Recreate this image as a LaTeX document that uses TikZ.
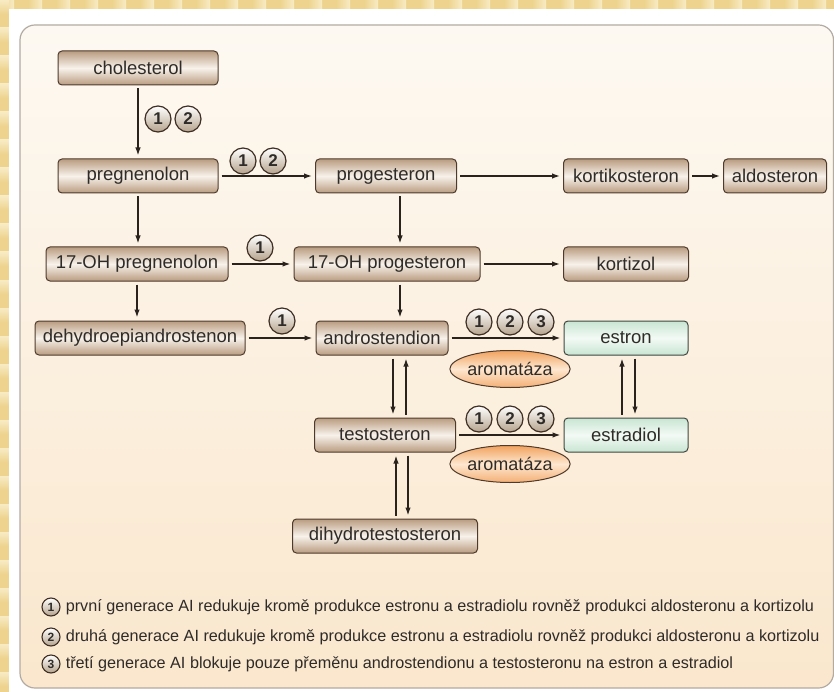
\documentclass[tikz,border=0pt]{standalone}
\usepackage{fontspec}
\setmainfont{Liberation Sans}
\usepackage{tikz}
\usetikzlibrary{arrows.meta}
\usetikzlibrary{shapes.geometric}

\definecolor{zlata}{HTML}{EDD38E}
\definecolor{zlatasv}{HTML}{F8EBC4}
\definecolor{ramecek}{HTML}{B3ABA3}
\definecolor{panelhore}{HTML}{FDF9F2}
\definecolor{paneldole}{HTML}{FAE7CD}
\definecolor{boxtan}{HTML}{B99C80}
\definecolor{boxlight}{HTML}{F8F2EB}
\definecolor{boxline}{HTML}{4E3A2C}
\definecolor{zeltop}{HTML}{C8E5D2}
\definecolor{zelmid}{HTML}{F3FAF5}
\definecolor{zelline}{HTML}{3F4740}
\definecolor{oranz}{HTML}{F2A25E}
\definecolor{oranzsv}{HTML}{FDE7D0}
\definecolor{krokdole}{HTML}{B5A38C}
\definecolor{txt}{HTML}{2E2B28}
\definecolor{sipkabarva}{HTML}{2A221C}

\tikzset{
  latka/.style={draw=boxline, line width=1pt, rounded corners=4pt,
    top color=boxtan, bottom color=boxtan, middle color=boxlight,
    minimum height=34pt, inner sep=0pt, text=txt,
    font=\fontsize{18.5}{20}\selectfont},
  zelena/.style={latka, draw=zelline, top color=zeltop, bottom color=zeltop,
    middle color=zelmid},
  enzym/.style={ellipse, draw=boxline, line width=1pt, top color=oranz,
    bottom color=oranz!80!oranzsv, middle color=oranzsv, minimum width=118pt,
    minimum height=37pt, inner sep=0pt, text=txt,
    font=\fontsize{18}{20}\selectfont},
  krok/.style={circle, draw=boxline!80!black, line width=1.2pt, top color=white,
    bottom color=krokdole, minimum size=26pt, inner sep=0pt, text=txt,
    font=\fontsize{17}{18}\selectfont\bfseries},
  maly/.style={krok, minimum size=18pt, line width=1.1pt,
    font=\fontsize{12}{12}\selectfont\bfseries},
  legenda/.style={anchor=west, inner sep=0pt, text=txt,
    font=\fontsize{16.2}{18}\selectfont},
  sipka/.style={draw=sipkabarva, line width=1.4pt,
    -{Latex[length=8pt,width=5.5pt]}, shorten >=3pt, shorten <=3pt}
}

\begin{document}
\begin{tikzpicture}[x=1pt,y=-1pt]
        \useasboundingbox (0,0) rectangle (834,692);
        % background
        \fill[zlata] (0,0) rectangle (834,692);
        \foreach \x in {0,28,...,830}
            \shade[left color=zlata, right color=zlatasv] (\x,0) rectangle (\x+14,9);
        \foreach \y in {0,28,...,690}
            \shade[top color=zlatasv, bottom color=zlata] (0,\y) rectangle (9,\y+14);
        \fill[white] (9,9) rectangle (834,692);
        \draw[ramecek, line width=1.2pt, rounded corners=15pt, top color=panelhore,
            bottom color=paneldole] (20,25) rectangle (833.5,688);

        % first line
        \node[latka, minimum width=160pt] (chol) at (138,68) {cholesterol};
        % sec line
        \node[latka, minimum width=160pt] (preg) at (138,176) {pregnenolon};
        \node[latka, minimum width=141pt] (prog) at (386,176) {progesteron};
        \node[latka, minimum width=125pt] (kortik) at (626,176) {kortikosteron};
        \node[latka, minimum width=103pt] (aldo) at (775,176) {aldosteron};
        % third line
        \node[latka, minimum width=182pt] (ohpreg) at (137,264) {17-OH pregnenolon};
        \node[latka, minimum width=186pt] (ohprog) at (387,264) {17-OH progesteron};
        \node[latka, minimum width=125pt] (kortiz) at (626,264) {kortizol};
        % fourth line
        \node[latka, minimum width=210pt] (dhea) at (140,338) {dehydroepiandrostenon};
        \node[latka, minimum width=132pt] (andro) at (382,338) {androstendion};
        \node[zelena, minimum width=124pt] (estron) at (626,338) {estron};
        \node[enzym] (arom1) at (510,369) {aromatáza};
        % fifth line
        \node[latka, minimum width=141pt] (testo) at (385,435) {testosteron};
        \node[zelena, minimum width=124pt] (estradiol) at (626,435) {estradiol};
        \node[enzym] (arom2) at (510,464) {aromatáza};
        % bottom line
        \node[latka, minimum width=185pt] (dht) at (385,536) {dihydrotestosteron};

        % arrows
        \draw[sipka] (chol) -- (preg);
        \draw[sipka] (preg) -- (prog);
        \draw[sipka] (prog) -- (kortik);
        \draw[sipka] (kortik) -- (aldo);
        \draw[sipka] (preg.south) -- (preg.south |- ohpreg.north);
        \draw[sipka] ([xshift=14pt]prog.south) -- ([xshift=14pt]prog.south |- ohprog.north);
        \draw[sipka] (ohpreg) -- (ohprog);
        \draw[sipka] (ohprog) -- (kortiz);
        \draw[sipka] (ohpreg.south) -- (ohpreg.south |- dhea.north);
        \draw[sipka] ([xshift=13pt]ohprog.south) -- ([xshift=13pt]ohprog.south |- andro.north);
        \draw[sipka] (dhea) -- (andro);
        \draw[sipka] (andro) -- (estron);
        \draw[sipka] (testo) -- (estradiol);
        \draw[sipka] ([xshift=11pt]andro.south) -- ([xshift=11pt]andro.south |- testo.north);
        \draw[sipka] ([xshift=24pt]andro.south |- testo.north) -- ([xshift=24pt]andro.south);
        \draw[sipka] ([xshift=11pt]testo.south |- dht.north) -- ([xshift=11pt]testo.south);
        \draw[sipka] ([xshift=23pt]testo.south) -- ([xshift=23pt]testo.south |- dht.north);
        \draw[sipka] ([xshift=-4pt]estron.south |- estradiol.north) -- ([xshift=-4pt]estron.south);
        \draw[sipka] ([xshift=9pt]estron.south) -- ([xshift=9pt]estron.south |- estradiol.north);

        % inhibitors
        \node[krok] (k1a) at (158,119) {1};
        \node[krok] (k2a) at (188,119) {2};
        \node[krok] (k1b) at (243,161) {1};
        \node[krok] (k2b) at (273,161) {2};
        \node[krok] (k1c) at (260,248) {1};
        \node[krok] (k1d) at (282,321) {1};
        \node[krok] (k1e) at (479,322) {1};
        \node[krok] (k2e) at (510,322) {2};
        \node[krok] (k3e) at (541,322) {3};
        \node[krok] (k1f) at (479,419) {1};
        \node[krok] (k2f) at (510,419) {2};
        \node[krok] (k3f) at (541,419) {3};

        % legend
        \node[maly] (l1) at (51,607) {1};
        \node[legenda] (t1) at ([xshift=5pt]l1.east) {první generace AI redukuje kromě produkce estronu a estradiolu rovněž produkci aldosteronu a kortizolu};
        \node[maly] (l2) at (51,637) {2};
        \node[legenda] (t2) at ([xshift=5pt]l2.east) {druhá generace AI redukuje kromě produkce estronu a estradiolu rovněž produkci aldosteronu a kortizolu};
        \node[maly] (l3) at (51,664) {3};
        \node[legenda] (t3) at ([xshift=5pt]l3.east) {třetí generace AI blokuje pouze přeměnu androstendionu a testosteronu na estron a estradiol};
    \end{tikzpicture}
\end{document}
